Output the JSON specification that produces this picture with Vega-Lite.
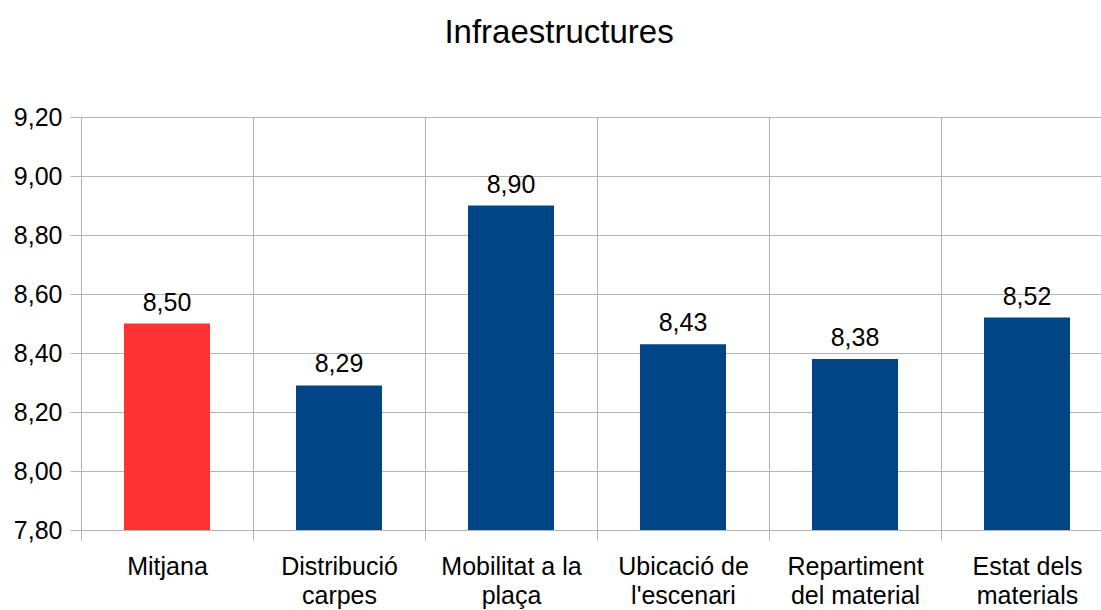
{
  "$schema": "https://vega.github.io/schema/vega-lite/v6.json",
  "width": 1020,
  "height": 413,
  "autosize": {"type": "none"},
  "padding": {"left": 81, "top": 117, "right": 0, "bottom": 80},
  "title": {
    "text": "Infraestructures",
    "font": "Liberation Sans",
    "fontSize": 33,
    "fontWeight": "normal",
    "color": "#000000",
    "anchor": "middle",
    "frame": "group",
    "dx": -32,
    "baseline": "alphabetic",
    "offset": 29
  },
  "data": {
    "values": [
      {"categoria": "Mitjana", "valor": 8.50},
      {"categoria": "Distribució carpes", "valor": 8.29},
      {"categoria": "Mobilitat a la plaça", "valor": 8.90},
      {"categoria": "Ubicació de l'escenari", "valor": 8.43},
      {"categoria": "Repartiment del material", "valor": 8.38},
      {"categoria": "Estat dels materials", "valor": 8.52}
    ]
  },
  "encoding": {
    "x": {
      "field": "categoria",
      "type": "nominal",
      "sort": null,
      "scale": {"range": [0, 1032], "paddingInner": 0, "paddingOuter": 0},
      "axis": {
        "title": null,
        "labelAngle": 0,
        "tickBand": "extent",
        "grid": true,
        "gridColor": "#b3b3b3",
        "domainColor": "#b3b3b3",
        "tickColor": "#b3b3b3",
        "tickSize": 10,
        "labelFont": "Liberation Sans",
        "labelFontSize": 25,
        "labelColor": "#000000",
        "labelPadding": 14,
        "labelLineHeight": 29,
        "labelLimit": 400,
        "labelOverlap": false,
        "labelExpr": "datum.label == 'Distribució carpes' ? ['Distribució', 'carpes'] : datum.label == 'Mobilitat a la plaça' ? ['Mobilitat a la', 'plaça'] : datum.label == \"Ubicació de l'escenari\" ? ['Ubicació de', \"l'escenari\"] : datum.label == 'Repartiment del material' ? ['Repartiment', 'del material'] : datum.label == 'Estat dels materials' ? ['Estat dels', 'materials'] : datum.label"
      }
    },
    "y": {
      "field": "valor",
      "type": "quantitative",
      "scale": {"domain": [7.8, 9.2], "nice": false, "zero": false},
      "axis": {
        "title": null,
        "values": [7.8, 8.0, 8.2, 8.4, 8.6, 8.8, 9.0, 9.2],
        "format": ".2f",
        "grid": true,
        "gridColor": "#b3b3b3",
        "domainColor": "#b3b3b3",
        "tickColor": "#b3b3b3",
        "tickSize": 11,
        "labelPadding": 8,
        "labelFont": "Liberation Sans",
        "labelFontSize": 25,
        "labelColor": "#000000"
      }
    }
  },
  "layer": [
    {
      "mark": {"type": "bar", "clip": true, "width": {"band": 0.5}},
      "encoding": {
        "color": {
          "field": "categoria",
          "type": "nominal",
          "legend": null,
          "scale": {
            "domain": ["Mitjana", "Distribució carpes", "Mobilitat a la plaça", "Ubicació de l'escenari", "Repartiment del material", "Estat dels materials"],
            "range": ["#ff3333", "#004586", "#004586", "#004586", "#004586", "#004586"]
          }
        }
      }
    },
    {
      "mark": {
        "type": "text",
        "font": "Liberation Sans",
        "fontSize": 25,
        "color": "#000000",
        "baseline": "alphabetic",
        "dy": -13
      },
      "encoding": {
        "text": {"field": "valor", "type": "quantitative", "format": ".2f"}
      }
    }
  ],
  "config": {
    "view": {"stroke": null},
    "locale": {
      "number": {"decimal": ",", "thousands": ".", "grouping": [3], "currency": ["", " €"]}
    }
  }
}
